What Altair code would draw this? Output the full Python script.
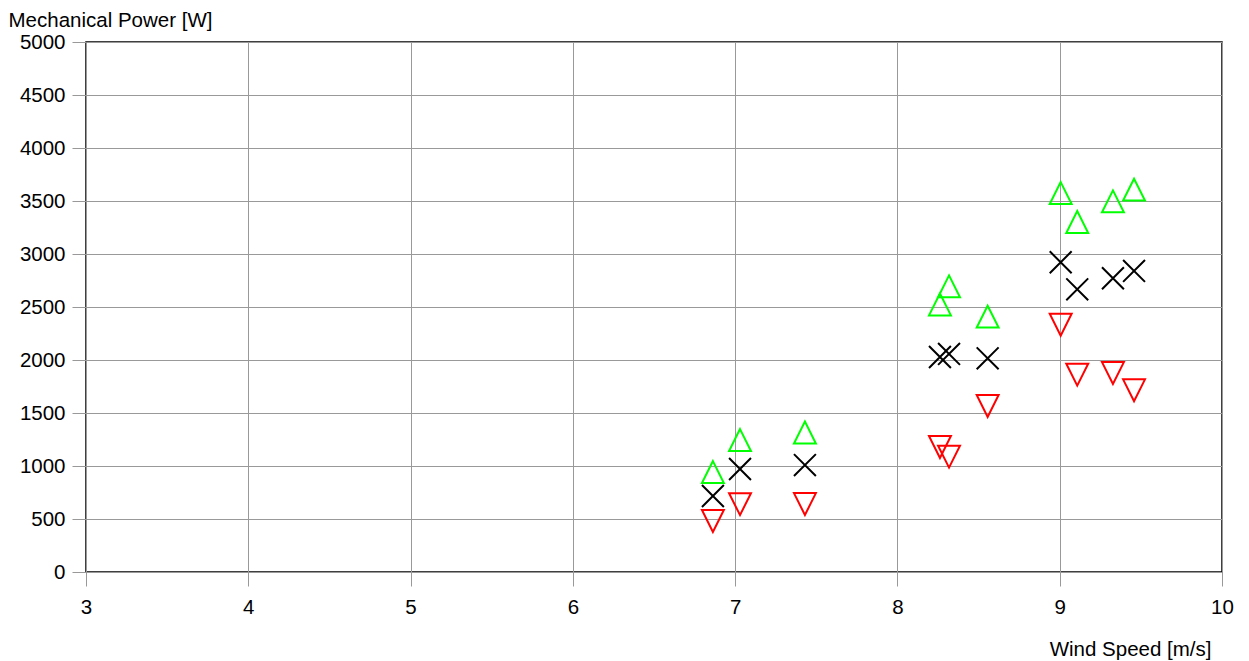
import altair as alt
import pandas as pd

wind_speed = [6.863, 7.03, 7.43, 8.262, 8.318, 8.556, 9.006, 9.108, 9.328, 9.458]
power_mean = [717, 972, 1009, 2028, 2057, 2016, 2922, 2667, 2771, 2840]
power_max = [943, 1245, 1316, 2524, 2695, 2409, 3575, 3302, 3497, 3607]
power_min = [481, 640, 641, 1179, 1088, 1566, 2333, 1862, 1877, 1714]

series_names = ["max", "mean", "min"]
series_colors = ["#00ff00", "#000000", "#ff0000"]
series_shapes = ["M0,-1L1,1L-1,1Z", "M-1,-1L1,1M-1,1L1,-1", "M-1,-1L1,-1L0,1Z"]

x_ticks = [3, 4, 5, 6, 7, 8, 9, 10]
y_ticks = [0, 500, 1000, 1500, 2000, 2500, 3000, 3500, 4000, 4500, 5000]

df = pd.DataFrame({"wind": wind_speed, "max": power_max, "mean": power_mean, "min": power_min})
long = df.melt(id_vars="wind", var_name="series", value_name="power")

FONT = "Liberation Sans"
FS = 20.5

chart = alt.Chart(long).mark_point(filled=False, size=480, strokeWidth=2, opacity=1).encode(
    x=alt.X("wind:Q",
            scale=alt.Scale(domain=[3, 10], nice=False, zero=False),
            axis=alt.Axis(values=x_ticks, title="Wind Speed [m/s]", format="d",
                          titleX=1125, titleY=83, titleAlign="right", titleBaseline="alphabetic",
                          labelPadding=11, labelFlush=False)),
    y=alt.Y("power:Q",
            scale=alt.Scale(domain=[0, 5000], nice=False, zero=False),
            axis=alt.Axis(values=y_ticks, title="Mechanical Power [W]", format="d",
                          titleAngle=0, titleX=-78, titleY=-16, titleAlign="left",
                          titleBaseline="alphabetic", labelPadding=7, labelFlush=False)),
    color=alt.Color("series:N", scale=alt.Scale(domain=series_names, range=series_colors), legend=None),
    shape=alt.Shape("series:N", scale=alt.Scale(domain=series_names, range=series_shapes), legend=None),
).properties(
    width=1136, height=530,
    autosize=alt.AutoSizeParams(type="none"),
    padding={"left": 78, "top": 34, "right": 19, "bottom": 100},
).configure_view(
    stroke="#000000", strokeWidth=1.5
).configure_axis(
    grid=True, gridColor="#999999", gridWidth=1, gridOpacity=1,
    domain=False, tickColor="#999999", tickSize=14, tickWidth=1,
    labelFont=FONT, labelFontSize=FS, labelColor="#000000",
    titleFont=FONT, titleFontSize=FS, titleFontWeight="normal", titleColor="#000000",
)

chart.save("out.html", embed_options={"renderer": "svg", "actions": False})
